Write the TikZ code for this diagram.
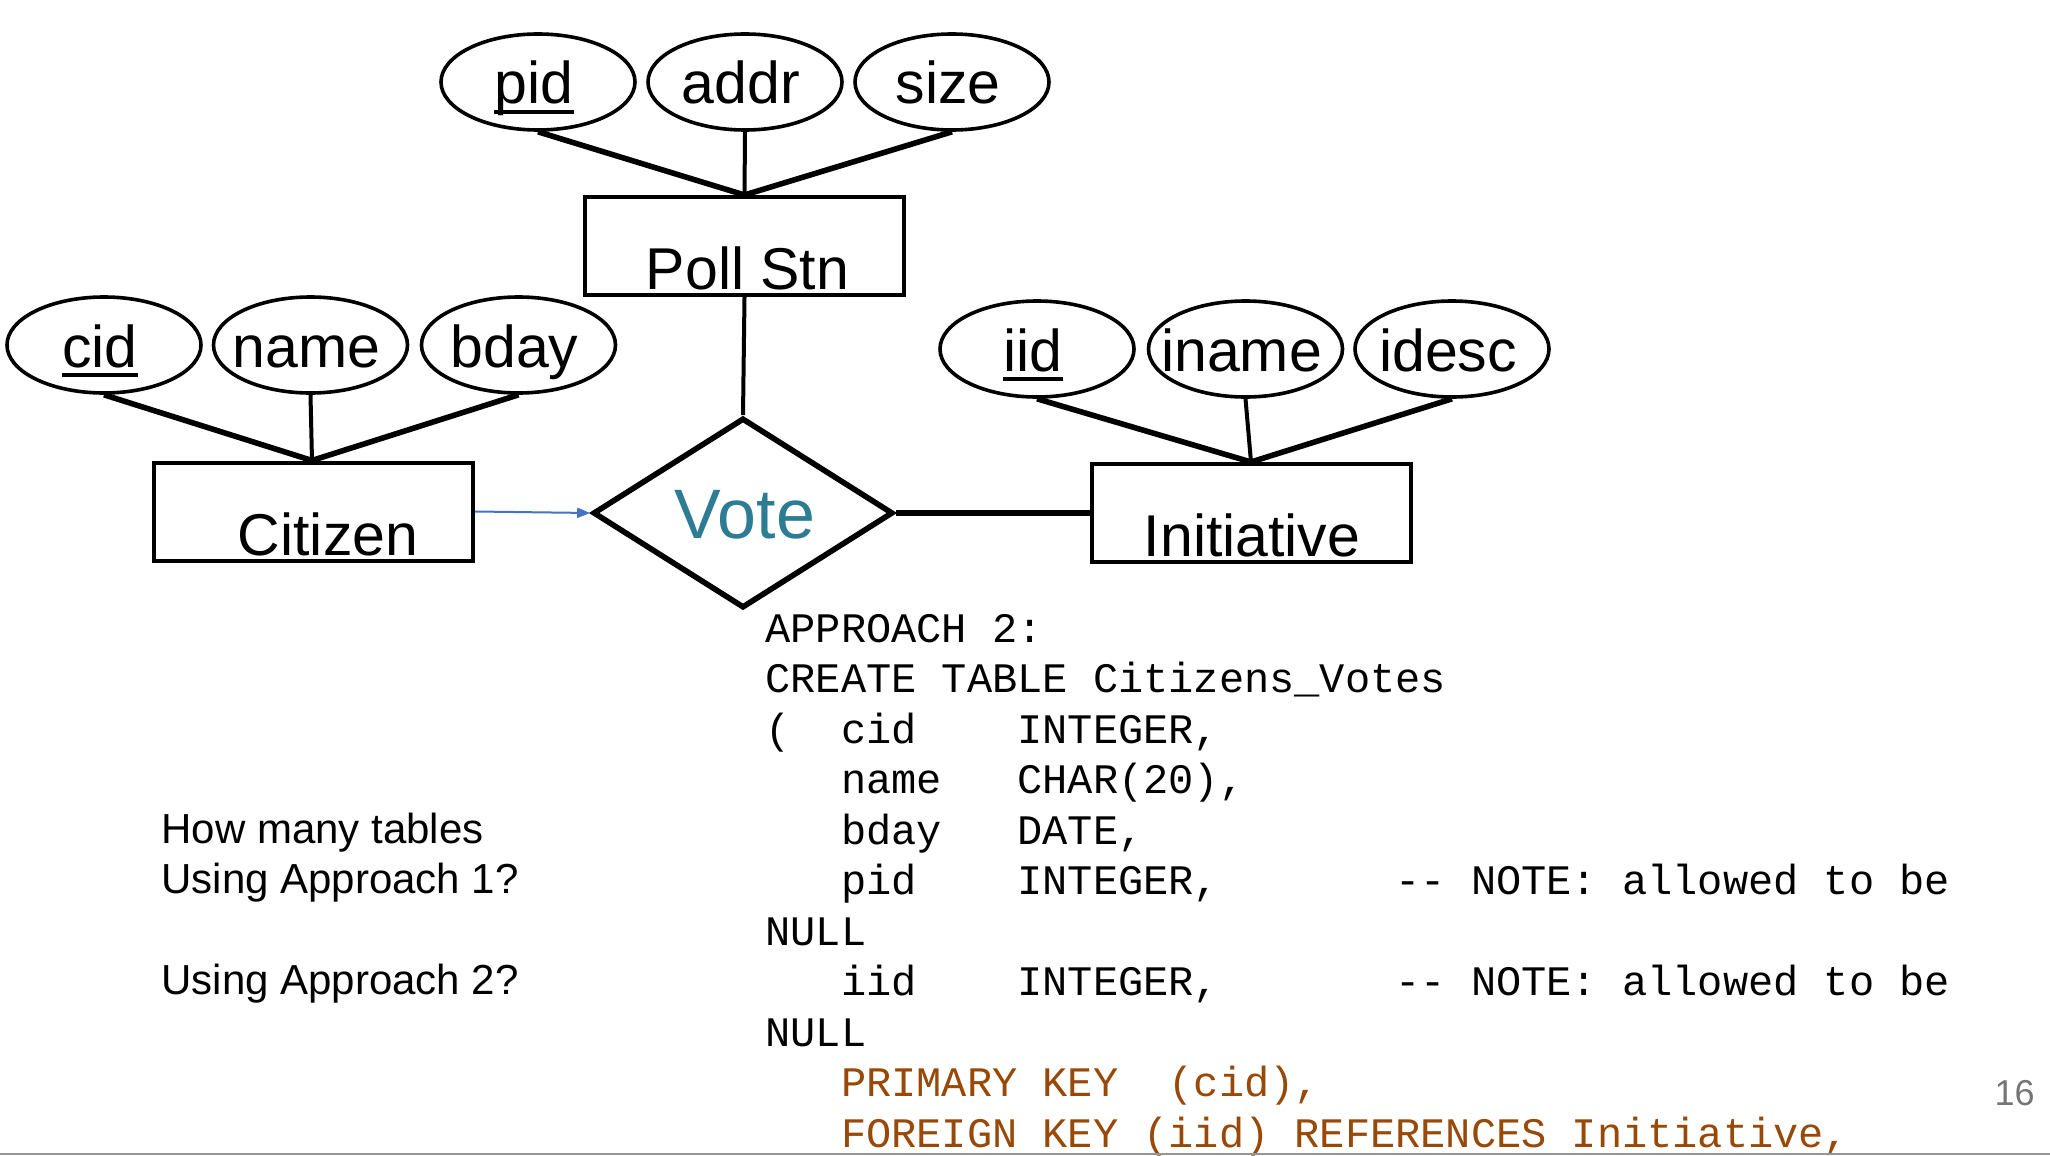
\documentclass[tikz,border=0pt]{standalone}
\usepackage{fontspec}
\setmainfont{Liberation Sans}
\setmonofont{Liberation Mono}
\usetikzlibrary{shapes.geometric,arrows.meta}
\definecolor{votec}{RGB}{45,124,148}
\definecolor{brownc}{RGB}{152,72,7}
\definecolor{arrowc}{RGB}{68,114,196}
\definecolor{pagec}{RGB}{117,117,117}
\definecolor{rulec}{RGB}{150,150,150}
\begin{document}
\begin{tikzpicture}[x=0.5pt,y=-0.5pt,
  attr/.style={ellipse, draw, line width=1.8pt, minimum width=97pt, minimum height=48pt, inner sep=0pt},
  ent/.style={rectangle, draw, line width=2pt, minimum width=159.5pt, minimum height=49pt, inner sep=0pt},
  lbl/.style={font=\fontsize{29.5}{32}\selectfont, inner sep=0pt, anchor=base},
  thickln/.style={line width=2.8pt},
  thinln/.style={line width=2pt},
  uline/.style={line width=1.9pt},
  code/.style={font=\fontsize{21}{24}\selectfont\ttfamily, inner sep=0pt, anchor=base west},
  qtext/.style={font=\fontsize{21}{24}\selectfont, inner sep=0pt, anchor=base west}]
\useasboundingbox (0,0) rectangle (2050,1156);

% entities
\node[ent] (poll) at (744.5,246) {};
\node[ent] (cit) at (313.5,511.5) {};
\node[ent] (ini) at (1251,513) {};
\node[lbl] (tpoll) at ([xshift=1.5pt,yshift=3.75pt]poll.south) {Poll Stn};
\node[lbl] (tcit) at ([xshift=7.25pt,yshift=3.75pt]cit.south) {Citizen};
\node[lbl] (tini) at ([xshift=0.5pt,yshift=4pt]ini.south) {Initiative};

% relationship
\node[diamond, draw, line width=2.8pt, minimum width=150pt, minimum height=95pt, inner sep=0pt] (vote) at (743,513) {};
\node[lbl, font=\fontsize{35}{38}\selectfont, text=votec] (tvote) at ([xshift=1pt,yshift=-12.75pt]vote.center) {Vote};

% attributes
\node[attr] (pid) at (538,82) {};
\node[attr] (addr) at (745,82) {};
\node[attr] (size) at (952,82) {};
\node[attr] (cid) at (104,345) {};
\node[attr] (name) at (310.5,345) {};
\node[attr] (bday) at (518.5,345) {};
\node[attr] (iid) at (1037,349) {};
\node[attr] (iname) at (1245.5,349) {};
\node[attr] (idesc) at (1452,349) {};

\foreach \a/\t in {pid/pid, addr/addr, size/size, cid/cid, name/name, bday/bday, iid/iid, iname/iname, idesc/idesc}{
  \node[lbl] (t\a) at ([xshift=-2pt,yshift=-11pt]\a.center) {\t};
}
\foreach \a in {pid, cid, iid}{
  \draw[uline] ([yshift=-4pt]t\a.base west) -- ([yshift=-4pt]t\a.base east);
}

% attribute connectors
\draw[thickln] (pid.south) -- (poll.north);
\draw[thinln] (addr.south) -- (poll.north);
\draw[thickln] (size.south) -- (poll.north);
\draw[thickln] (cid.south) -- ([xshift=-0.75pt]cit.north);
\draw[thinln] (name.south) -- ([xshift=-0.75pt]cit.north);
\draw[thickln] (bday.south) -- ([xshift=-0.75pt]cit.north);
\draw[thickln] (iid.south) -- (ini.north);
\draw[thinln] (iname.south) -- (ini.north);
\draw[thickln] (idesc.south) -- (ini.north);

% relationship connectors
\draw[thinln] (poll.south) -- (vote.north);
\draw[thickln] (vote.east) -- (ini.west);
\draw[line width=1pt, arrowc, -{Triangle[length=6.5pt,width=5pt]}] (cit.east) -- (vote.west);

% SQL code
\node[code] (c0) at (765,642) {APPROACH 2:};
\node[code] (c1) at (765,692.5) {CREATE TABLE Citizens\_Votes};
\node[code] (c2) at (765,743) {(~~cid~~~~INTEGER,};
\node[code] (c3) at (765,793.5) {~~~name~~~CHAR(20),};
\node[code] (c4) at (765,844) {~~~bday~~~DATE,};
\node[code] (c5) at (765,894.5) {~~~pid~~~~INTEGER,~~~~~~~-{}-~NOTE:~allowed~to~be};
\node[code] (c6) at (765,945) {NULL};
\node[code] (c7) at (765,995.5) {~~~iid~~~~INTEGER,~~~~~~~-{}-~NOTE:~allowed~to~be};
\node[code] (c8) at (765,1046) {NULL};
\node[code, text=brownc] (c9) at (765,1096.5) {~~~PRIMARY~KEY~~(cid),};
\node[code, text=brownc] (c10) at (765,1147) {~~~FOREIGN~KEY~(iid)~REFERENCES~Initiative,};

% question
\node[qtext] (q1) at (161,843) {How many tables};
\node[qtext] (q2) at (161,893.5) {Using Approach 1?};
\node[qtext] (q3) at (161,994.5) {Using Approach 2?};

% page number and bottom rule
\node[font=\fontsize{18}{20}\selectfont, text=pagec, inner sep=0pt, anchor=base east] (pg) at (2035,1105) {16};
\coordinate (rl) at (0,1154);
\coordinate (rr) at (2050,1154);
\draw[rulec, line width=1.25pt] (rl) -- (rr);
\end{tikzpicture}
\end{document}
